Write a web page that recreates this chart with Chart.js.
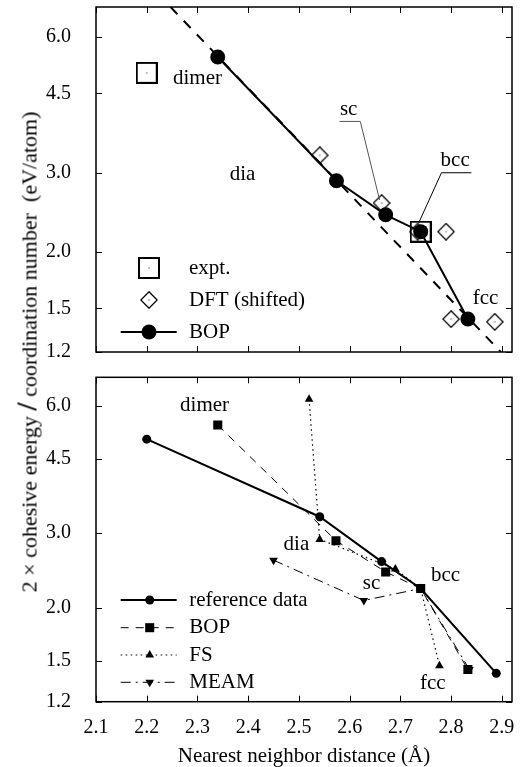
<!DOCTYPE html>
<html><head><meta charset="utf-8">
<script src="https://cdn.jsdelivr.net/npm/chart.js@4"></script>
<style>
html,body{margin:0;padding:0;background:#fff;}
#wrap{position:relative;width:528px;height:767px;background:#fff;overflow:hidden;font-family:"Liberation Serif","Times New Roman",serif;}
#c1{position:absolute;left:0;top:0;}
#c2{position:absolute;left:0;top:362px;}
#ylab{position:absolute;left:27px;top:352px;transform:translate(-50%,-50%) rotate(-90deg);white-space:pre;font-size:22px;color:#000;line-height:1;}
#ylab .sl{font-size:29px;font-weight:bold;}
</style></head><body>
<div id="wrap">
<canvas id="c1" width="528" height="362"></canvas>
<canvas id="c2" width="528" height="405"></canvas>
<div id="ylab">2 × cohesive energy <span class="sl">/</span> coordination number  (eV/atom)</div>
</div>
<script>
// ---------- data ----------
const xTicks=[2.1,2.2,2.3,2.4,2.5,2.6,2.7,2.8,2.9];
const yTicks=[1.2,1.5,2.0,3.0,4.5,6.0];
// top panel
const fitLineX=[2.247,2.898];
const fitLineY=[7.0,1.2];
const topBopX=[2.340,2.574,2.671,2.740,2.833];
const topBopY=[5.42,2.88,2.42,2.22,1.42];
const exptX=[2.200,2.740];
const exptY=[5.00,2.22];
const dftX=[2.541,2.663,2.734,2.790,2.800,2.886];
const dftY=[3.28,2.57,2.22,2.22,1.42,1.40];
// bottom panel
const refX=[2.200,2.541,2.663,2.740,2.889];
const refY=[5.00,3.28,2.57,2.22,1.40];
const bopX=[2.340,2.573,2.671,2.740,2.833];
const bopY=[5.40,2.88,2.43,2.22,1.43];
const fsX=[2.520,2.541,2.690,2.740,2.777];
const fsY=[6.21,2.90,2.47,2.22,1.46];
const meamX=[2.450,2.628,2.740,2.836];
const meamY=[2.59,2.08,2.22,1.43];
// structure labels
const structLabels=['dimer','dia','sc','bcc','fcc'];
const topLabelX=[2.300,2.389,2.598,2.808,2.868];
const topLabelY=[4.85,2.97,4.14,3.195,1.576];
const botLabelX=[2.314,2.495,2.643,2.789,2.764];
const botLabelY=[5.99,2.82,2.287,2.384,1.326];
const scLeaderX=[2.580,2.621,2.659];
const scLeaderY=[3.90,3.90,2.61];
const bccLeaderX=[2.840,2.781,2.736];
const bccLeaderY=[3.0,3.0,2.32];
const topLegend=['expt.','DFT (shifted)','BOP'];
const botLegend=['reference data','BOP','FS','MEAM'];
const xTitle='Nearest neighbor distance (Å)';

// ---------- helpers ----------
const FAM='"Liberation Serif","Times New Roman",serif';
const pts=(xs,ys)=>xs.map((x,i)=>({x:x,y:ys[i]}));
function mkSquare(size){const c=document.createElement('canvas');c.width=c.height=size;const g=c.getContext('2d');g.strokeStyle='#000';g.lineWidth=2;g.strokeRect(1,1,size-2,size-2);g.fillStyle='#000';g.fillRect(Math.floor(size/2)-0.5,Math.floor(size/2)-0.5,1,1);return c;}
function mkDiamond(size){const c=document.createElement('canvas');c.width=c.height=size;const g=c.getContext('2d');g.strokeStyle='#000';g.lineWidth=1.3;const h=size/2;g.beginPath();g.moveTo(h,0.8);g.lineTo(size-0.8,h);g.lineTo(h,size-0.8);g.lineTo(0.8,h);g.closePath();g.stroke();g.fillStyle='#000';g.fillRect(h-0.5,h-0.5,1,1);return c;}
const sqImg=mkSquare(22);
const diaImg=mkDiamond(18);

function drawMarker(ctx,ds,x,y){
  const st=ds.pointStyle,r=ds.pointRadius;
  if(st instanceof HTMLCanvasElement){ctx.drawImage(st,Math.round(x-st.width/2),Math.round(y-st.height/2));return;}
  ctx.fillStyle='#000';ctx.beginPath();
  if(st==='circle'){ctx.arc(x,y,r,0,2*Math.PI);}
  else if(st==='rect'){const s=r*Math.SQRT1_2;ctx.rect(x-s,y-s,2*s,2*s);}
  else if(st==='triangle'){let a=(ds.pointRotation||0)*Math.PI/180;for(let k=0;k<3;k++){const px=x+Math.sin(a)*r,py=y-Math.cos(a)*r;k?ctx.lineTo(px,py):ctx.moveTo(px,py);a+=2*Math.PI/3;}ctx.closePath();}
  ctx.fill();
}

const framePlugin={
  id:'frame',
  afterDraw(chart,args,o){
    const ctx=chart.ctx,a=chart.chartArea,xs=chart.scales.x,ys=chart.scales.y;
    ctx.save();
    // annotations
    ctx.font='21px '+FAM;ctx.fillStyle='#000';ctx.textAlign='center';ctx.textBaseline='middle';
    (o.labels||[]).forEach(l=>{ctx.fillText(l.t,xs.getPixelForValue(l.x),ys.getPixelForValue(l.y));});
    (o.leaders||[]).forEach(L=>{ctx.strokeStyle=L.c;ctx.lineWidth=1;ctx.setLineDash([]);ctx.beginPath();L.x.forEach((v,i)=>{const px=xs.getPixelForValue(v),py=ys.getPixelForValue(L.y[i]);i?ctx.lineTo(px,py):ctx.moveTo(px,py);});ctx.stroke();});
    // legend
    const lg=o.legend;
    if(lg){
      lg.items.forEach((it,i)=>{
        const ds=chart.data.datasets[it.ds];const y=a.top+lg.ys[i];
        if(it.line){ctx.strokeStyle='#000';ctx.lineWidth=ds.borderWidth;ctx.setLineDash(ds.borderDash||[]);ctx.beginPath();ctx.moveTo(a.left+lg.l0,y);ctx.lineTo(a.left+lg.l1,y);ctx.stroke();ctx.setLineDash([]);}
        drawMarker(ctx,ds,a.left+lg.sx,y);
        ctx.font='21px '+FAM;ctx.fillStyle='#000';ctx.textAlign='left';ctx.textBaseline='middle';
        ctx.fillText(it.t,a.left+lg.tx,y);
      });
    }
    // frame and inward ticks
    ctx.setLineDash([]);ctx.strokeStyle='#000';ctx.lineWidth=1.5;
    ctx.strokeRect(a.left,a.top,a.right-a.left,a.bottom-a.top);
    ctx.lineWidth=1;ctx.beginPath();const T=6;
    xs.ticks.forEach(t=>{const px=Math.round(xs.getPixelForValue(t.value))+0.5;ctx.moveTo(px,a.bottom);ctx.lineTo(px,a.bottom-T);ctx.moveTo(px,a.top);ctx.lineTo(px,a.top+T);});
    ys.ticks.forEach(t=>{const py=Math.round(ys.getPixelForValue(t.value))+0.5;ctx.moveTo(a.left,py);ctx.lineTo(a.left+T,py);ctx.moveTo(a.right,py);ctx.lineTo(a.right-T,py);});
    ctx.stroke();
    ctx.restore();
  }
};

function zeroPad(s){s.paddingTop=0;s.paddingBottom=0;s.paddingLeft=0;s.paddingRight=0;}
function scalesCfg(showX,xHeight){
  return {
    x:{type:'linear',min:2.1,max:2.92,
       afterBuildTicks:s=>{s.ticks=xTicks.map(v=>({value:v}));},
       afterFit:s=>{s.height=xHeight;zeroPad(s);},
       ticks:{display:showX,autoSkip:false,maxRotation:0,padding:6,color:'#000',font:{family:FAM,size:20},callback:v=>Number(v).toFixed(1)},
       grid:{display:false},border:{display:false},
       title:{display:showX,text:xTitle,color:'#000',font:{family:FAM,size:21,lineHeight:1},padding:{top:0,bottom:0}}},
    y:{type:'logarithmic',min:1.2,max:7.0,
       afterBuildTicks:s=>{s.ticks=yTicks.map(v=>({value:v}));},
       afterFit:s=>{s.width=96;zeroPad(s);},
       ticks:{autoSkip:false,padding:17,color:'#000',font:{family:FAM,size:20},callback:v=>Number(v).toFixed(1)},
       grid:{display:false},border:{display:false}}
  };
}

// ---------- top chart ----------
new Chart(document.getElementById('c1'),{
  type:'scatter',
  data:{datasets:[
    {label:'BOP',data:pts(topBopX,topBopY),showLine:true,borderColor:'#000',backgroundColor:'#000',borderWidth:2,pointStyle:'circle',pointRadius:7.5,pointBorderWidth:0},
    {label:'expt.',data:pts(exptX,exptY),showLine:false,pointStyle:sqImg,pointRadius:11},
    {label:'DFT (shifted)',data:pts(dftX,dftY),showLine:false,pointStyle:diaImg,pointRadius:9},
    {label:'fit',data:pts(fitLineX,fitLineY),showLine:true,borderColor:'#000',borderWidth:2,borderDash:[10,9],pointRadius:0}
  ]},
  options:{responsive:false,animation:false,events:[],
    layout:{autoPadding:false,padding:{top:7,right:16,left:0,bottom:0}},
    scales:scalesCfg(false,10),
    plugins:{legend:{display:false},tooltip:{enabled:false},
      frame:{
        labels:structLabels.map((t,i)=>({t:t,x:topLabelX[i],y:topLabelY[i]})),
        leaders:[{x:scLeaderX,y:scLeaderY,c:'#555'},{x:bccLeaderX,y:bccLeaderY,c:'#000'}],
        legend:{sx:53,tx:93,l0:24.7,l1:80.7,ys:[261,293,325],
          items:[{t:topLegend[0],ds:1,line:false},{t:topLegend[1],ds:2,line:false},{t:topLegend[2],ds:0,line:true}]}
      }}
  },
  plugins:[framePlugin]
});

// ---------- bottom chart ----------
new Chart(document.getElementById('c2'),{
  type:'scatter',
  data:{datasets:[
    {label:'BOP',data:pts(bopX,bopY),showLine:true,borderColor:'#000',backgroundColor:'#000',borderWidth:1,borderDash:[8,7],pointStyle:'rect',pointRadius:6.4,pointBorderWidth:0},
    {label:'reference data',data:pts(refX,refY),showLine:true,borderColor:'#000',backgroundColor:'#000',borderWidth:2,pointStyle:'circle',pointRadius:4.5,pointBorderWidth:0},
    {label:'FS',data:pts(fsX,fsY),showLine:true,borderColor:'#000',backgroundColor:'#000',borderWidth:1.2,borderDash:[1.5,3.5],pointStyle:'triangle',pointRadius:5,pointBorderWidth:0},
    {label:'MEAM',data:pts(meamX,meamY),showLine:true,borderColor:'#000',backgroundColor:'#000',borderWidth:1,borderDash:[10,5,2,5],pointStyle:'triangle',pointRotation:180,pointRadius:5,pointBorderWidth:0}
  ]},
  options:{responsive:false,animation:false,events:[],
    layout:{autoPadding:false,padding:{top:15.3,right:16,left:0,bottom:0}},
    scales:scalesCfg(true,65.3),
    plugins:{legend:{display:false},tooltip:{enabled:false},
      frame:{
        labels:structLabels.map((t,i)=>({t:t,x:botLabelX[i],y:botLabelY[i]})),
        legend:{sx:53.7,tx:93.3,l0:24.7,l1:80.7,ys:[222.7,250.4,277.7,305],
          items:[{t:botLegend[0],ds:1,line:true},{t:botLegend[1],ds:0,line:true},{t:botLegend[2],ds:2,line:true},{t:botLegend[3],ds:3,line:true}]}
      }}
  },
  plugins:[framePlugin]
});
</script>
</body></html>
